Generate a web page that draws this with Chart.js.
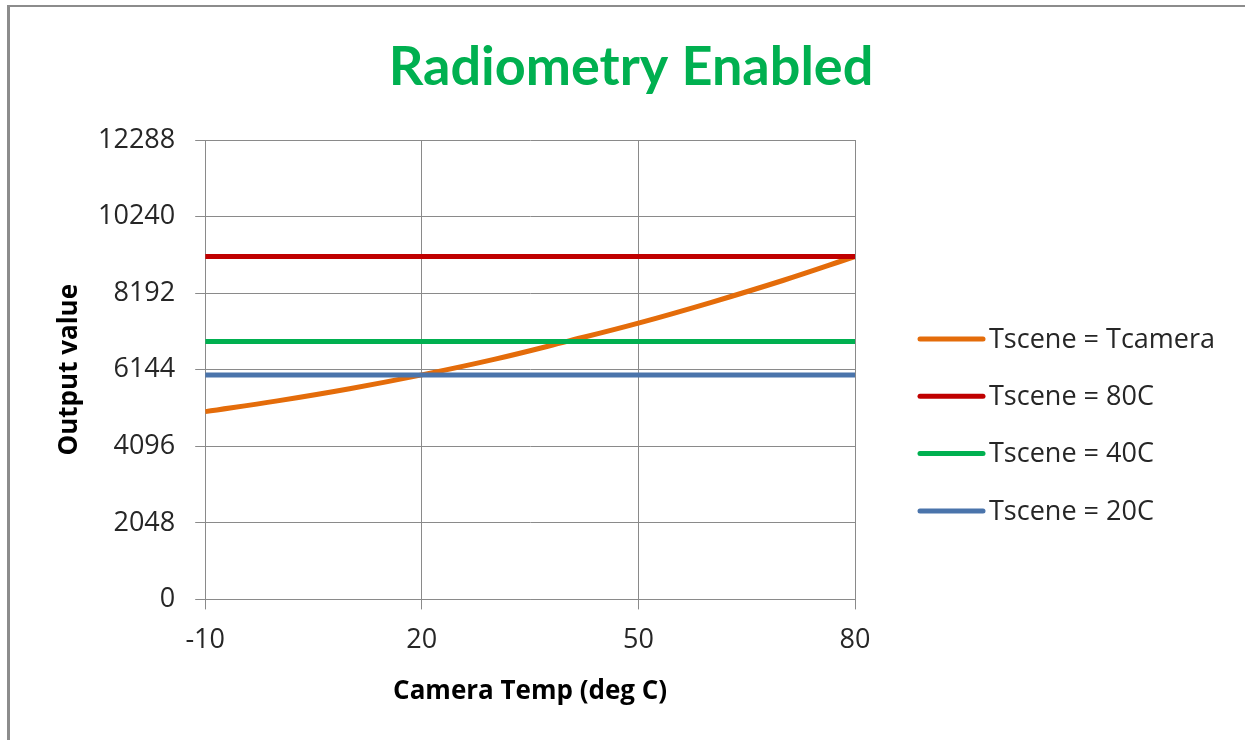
<!DOCTYPE html>
<html>
<head>
<meta charset="utf-8">
<script src="https://cdn.jsdelivr.net/npm/chart.js@4.4.1/dist/chart.umd.min.js"></script>
<style>
  html, body { margin: 0; padding: 0; background: #fff; }
  #frame { position: absolute; left: 0; top: 0; width: 1245px; height: 740px; }
  #edgeTop { position: absolute; left: 7px; top: 5px; width: 1238px; height: 2px; background: #8c8c8c; }
  #edgeLeft { position: absolute; left: 7px; top: 5px; width: 3px; height: 735px; background: #8c8c8c; }
  canvas { position: absolute; left: 0; top: 0; }
</style>
</head>
<body>
<div id="frame">
  <canvas id="c" width="1245" height="740"></canvas>
  <div id="edgeTop"></div>
  <div id="edgeLeft"></div>
</div>
<script>
const titleText = "Radiometry Enabled";
const xTitle = "Camera Temp (deg C)";
const yTitle = "Output value";
const cameraTemps = [-10, 0, 10, 20, 30, 40, 50, 60, 70, 80];
const tsceneEqualsTcamera = [5022, 5310, 5635, 6005, 6420, 6896, 7390, 7940, 8530, 9172];
const tscene80C = [9172, 9172, 9172, 9172, 9172, 9172, 9172, 9172, 9172, 9172];
const tscene40C = [6896, 6896, 6896, 6896, 6896, 6896, 6896, 6896, 6896, 6896];
const tscene20C = [6005, 6005, 6005, 6005, 6005, 6005, 6005, 6005, 6005, 6005];
const seriesNames = ["Tscene = Tcamera", "Tscene = 80C", "Tscene = 40C", "Tscene = 20C"];
const seriesColors = ["#E46C0A", "#C00000", "#00B050", "#4A74AB"];
const yTicks = [0, 2048, 4096, 6144, 8192, 10240, 12288];
const xTicks = [-10, 20, 50, 80];

const FONT = "'Open Sans', Lato, sans-serif";
const TITLE_FONT = "Lato, 'Open Sans', sans-serif";
const allSeries = [tsceneEqualsTcamera, tscene80C, tscene40C, tscene20C];
const drawOrder = [4, 3, 2, 1];
const datasets = allSeries.map((vals, i) => ({
  label: seriesNames[i],
  data: vals.map((v, j) => ({ x: cameraTemps[j], y: v })),
  borderColor: seriesColors[i],
  backgroundColor: seriesColors[i],
  borderWidth: 5,
  pointRadius: 0,
  tension: i === 0 ? 0.4 : 0,
  borderCapStyle: 'butt',
  order: drawOrder[i]
}));

const overlayPlugin = {
  id: 'overlay',
  afterDraw(chart) {
    const ctx = chart.ctx;
    const ca = chart.chartArea;
    ctx.save();
    // chart title
    ctx.fillStyle = '#00B050';
    ctx.font = "bold 54px " + TITLE_FONT;
    ctx.textAlign = 'center';
    ctx.textBaseline = 'alphabetic';
    ctx.fillText(titleText, 631, 85);
    // y axis title
    ctx.save();
    ctx.translate(70, (ca.top + ca.bottom) / 2);
    ctx.rotate(-Math.PI / 2);
    ctx.fillStyle = '#000';
    ctx.font = "bold 26px " + FONT;
    ctx.textAlign = 'center';
    ctx.textBaseline = 'middle';
    ctx.fillText(yTitle, 0, 0);
    ctx.restore();
    // legend
    const x0 = ca.right + 65;
    const yStart = 339;
    const gap = 57.3;
    seriesNames.forEach((name, i) => {
      const y = yStart + i * gap;
      ctx.strokeStyle = seriesColors[i];
      ctx.lineWidth = 5;
      ctx.lineCap = 'round';
      ctx.beginPath();
      ctx.moveTo(x0, y);
      ctx.lineTo(x0 + 63, y);
      ctx.stroke();
      ctx.fillStyle = '#262626';
      ctx.font = "27px " + FONT;
      ctx.textBaseline = 'middle';
      ctx.textAlign = 'left';
      ctx.fillText(name, x0 + 69, y + 1);
    });
    ctx.restore();
  }
};

new Chart(document.getElementById('c'), {
  type: 'line',
  data: { datasets },
  options: {
    responsive: false,
    animation: false,
    layout: { padding: { left: 78, right: 390, top: 140, bottom: 29 } },
    plugins: {
      legend: { display: false },
      tooltip: { enabled: false },
      title: { display: false }
    },
    scales: {
      x: {
        type: 'linear',
        min: -10, max: 80,
        afterBuildTicks: (axis) => { axis.ticks = xTicks.map(v => ({ value: v })); },
        ticks: { color: '#262626', font: { family: FONT, size: 27 }, padding: 15, callback: (v) => String(v) },
        grid: { color: '#8a8a8a', lineWidth: 1, tickLength: 10, drawTicks: true },
        border: { color: '#8a8a8a', width: 1 },
        title: { display: true, text: xTitle, color: '#000', font: { family: FONT, size: 26, weight: 'bold' }, padding: { top: 4 } }
      },
      y: {
        min: 0, max: 12288,
        afterBuildTicks: (axis) => { axis.ticks = yTicks.map(v => ({ value: v })); },
        ticks: { color: '#262626', font: { family: FONT, size: 27 }, padding: 20, callback: (v) => String(v) },
        grid: { color: '#8a8a8a', lineWidth: 1, tickLength: 10, drawTicks: true },
        border: { color: '#8a8a8a', width: 1 },
        title: { display: false }
      }
    }
  },
  plugins: [overlayPlugin]
});
</script>
</body>
</html>
